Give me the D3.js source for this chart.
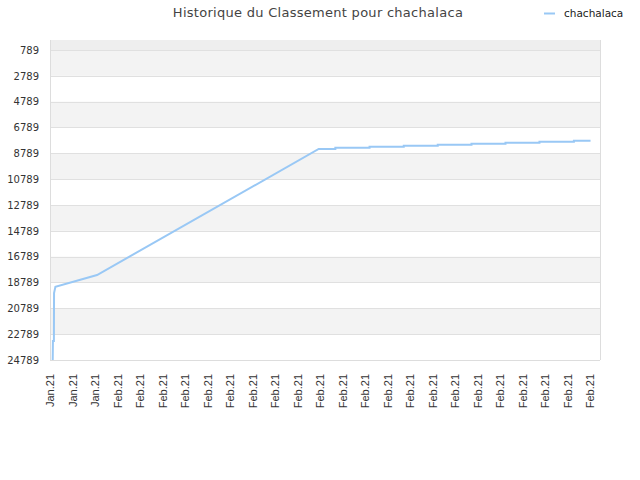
<!DOCTYPE html>
<html>
<head>
<meta charset="utf-8">
<script src="https://d3js.org/d3.v7.min.js"></script>
<style>
  body { margin: 0; background: #fff; }
  text { font-family: "DejaVu Sans", sans-serif; }
</style>
</head>
<body>
<div id="chart"></div>
<script>
// rank history
const dates = [
    '2021-01-29T02:53', '2021-01-29T03:07', '2021-01-29T04:10', '2021-01-29T04:19',
    '2021-01-29T05:46', '2021-01-31T02:10', '2021-02-09T22:34',
    '2021-02-10T16:19', '2021-02-10T16:19', '2021-02-12T04:48', '2021-02-12T04:48',
    '2021-02-13T17:17', '2021-02-13T17:17', '2021-02-15T05:31', '2021-02-15T05:31',
    '2021-02-16T17:31', '2021-02-16T17:31', '2021-02-18T05:46', '2021-02-18T05:46',
    '2021-02-19T18:00', '2021-02-19T18:00', '2021-02-21T06:43', '2021-02-21T06:43',
    '2021-02-22T00:29'
];
const ranks = [
    24789, 23321, 23321, 19604,
    19116, 18211, 8454,
    8454, 8354, 8354, 8277,
    8277, 8199, 8199, 8122,
    8122, 8044, 8044, 7967,
    7967, 7890, 7890, 7812,
    7812
];
const yTicks = [789, 2789, 4789, 6789, 8789, 10789, 12789, 14789, 16789, 18789, 20789, 22789, 24789];
const xStart = '2021-01-29T00:00';
const xEnd = '2021-02-22T10:34';
const title = 'Historique du Classement pour chachalaca';
const seriesName = 'chachalaca';

const width = 640, height = 480;
const margin = { top: 40, right: 40, bottom: 120, left: 50 };
const plotW = width - margin.left - margin.right;
const plotH = height - margin.top - margin.bottom;
const parse = d3.isoParse;

const data = dates.map((d, i) => ({ date: parse(d), rank: ranks[i] }));

const svg = d3.select('#chart').append('svg')
    .attr('width', width)
    .attr('height', height);

const x = d3.scaleTime()
    .domain([parse(xStart), parse(xEnd)])
    .range([0, plotW]);

const y = d3.scaleLinear()
    .domain([15, 24789])
    .range([0, plotH]);

const plot = svg.append('g')
    .attr('transform', `translate(${margin.left},${margin.top})`);

// alternating bands
plot.append('rect')
    .attr('x', 0).attr('y', 0)
    .attr('width', plotW).attr('height', y(yTicks[0]))
    .attr('fill', '#eeeeee');
for (let i = 0; i < yTicks.length - 1; i += 2) {
    plot.append('rect')
        .attr('x', 0)
        .attr('y', y(yTicks[i]))
        .attr('width', plotW)
        .attr('height', y(yTicks[i + 1]) - y(yTicks[i]))
        .attr('fill', '#f3f3f3');
}

// grid lines
plot.selectAll('.grid')
    .data(yTicks)
    .enter().append('line')
    .attr('class', 'grid')
    .attr('x1', 0).attr('x2', plotW)
    .attr('y1', d => Math.round(y(d)) + 0.5)
    .attr('y2', d => Math.round(y(d)) + 0.5)
    .attr('stroke', '#e0e0e0');

// frame
plot.append('line')
    .attr('x1', 0.5).attr('x2', 0.5).attr('y1', 0).attr('y2', plotH)
    .attr('stroke', '#dddddd');
plot.append('line')
    .attr('x1', plotW + 0.5).attr('x2', plotW + 0.5).attr('y1', 0).attr('y2', plotH)
    .attr('stroke', '#dddddd');
plot.append('line')
    .attr('x1', 0).attr('x2', plotW).attr('y1', plotH + 0.5).attr('y2', plotH + 0.5)
    .attr('stroke', '#dddddd');

// y axis
const yAxis = plot.append('g')
    .call(d3.axisLeft(y).tickValues(yTicks).tickFormat(d3.format('d')).tickSize(0).tickPadding(11));
yAxis.select('.domain').remove();
yAxis.selectAll('text')
    .attr('fill', '#333')
    .style('font-size', '10px');

// x axis, one tick per day
const xAxis = plot.append('g')
    .attr('transform', `translate(0,${plotH})`)
    .call(d3.axisBottom(x)
        .ticks(d3.timeDay.every(1))
        .tickFormat(d3.timeFormat('%b.%y'))
        .tickSize(0));
xAxis.select('.domain').remove();
xAxis.selectAll('text')
    .attr('fill', '#333')
    .style('font-size', '11px')
    .style('font-family', '"Liberation Sans", Arial, sans-serif')
    .attr('text-anchor', 'end')
    .attr('transform', 'rotate(-90)')
    .attr('x', -14)
    .attr('y', 0)
    .attr('dy', '0.35em');

// line
const line = d3.line()
    .x(d => x(d.date))
    .y(d => y(d.rank));

plot.append('path')
    .datum(data)
    .attr('fill', 'none')
    .attr('stroke', '#99c8f5')
    .attr('stroke-width', 2)
    .attr('d', line);

// title
svg.append('text')
    .attr('x', 318)
    .attr('y', 17)
    .attr('text-anchor', 'middle')
    .attr('fill', '#444')
    .style('font-size', '13px')
    .style('letter-spacing', '0.28px')
    .text(title);

// legend
svg.append('line')
    .attr('x1', 544).attr('x2', 555)
    .attr('y1', 13.5).attr('y2', 13.5)
    .attr('stroke', '#99c8f5')
    .attr('stroke-width', 2);
svg.append('text')
    .attr('x', 564)
    .attr('y', 17)
    .attr('fill', '#222')
    .style('font-size', '10.5px')
    .text(seriesName);
</script>
</body>
</html>
